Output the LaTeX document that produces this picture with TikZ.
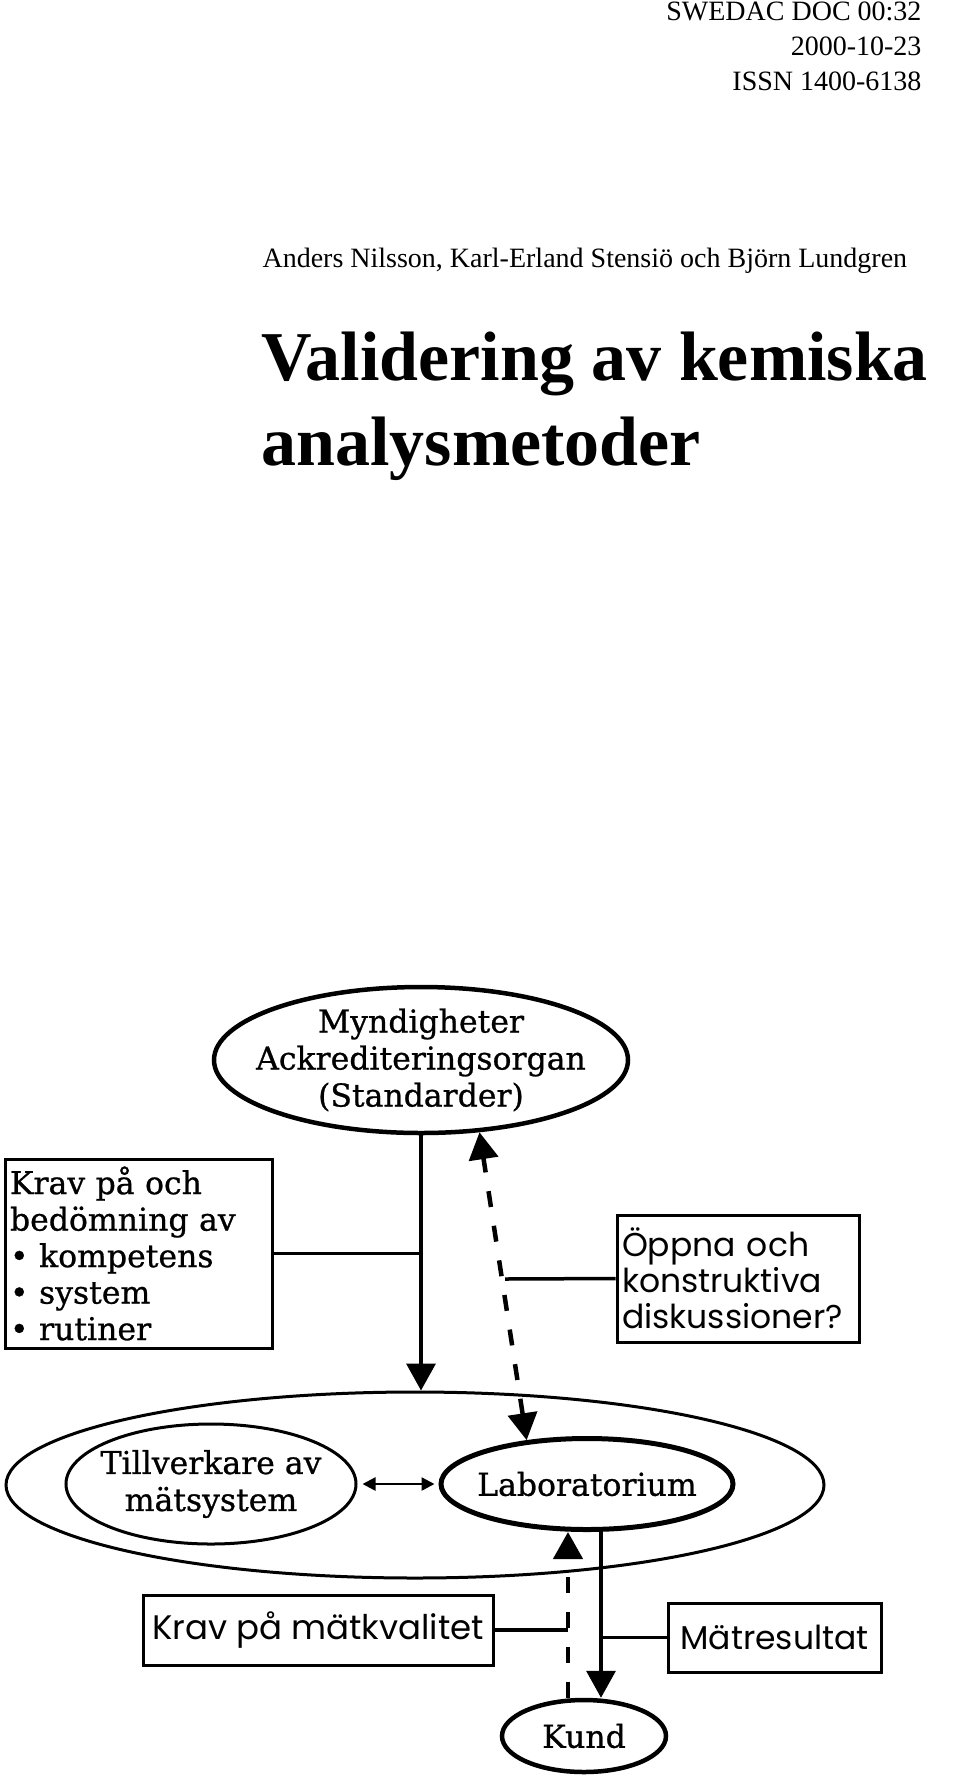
\documentclass[tikz,border=0pt]{standalone}
\usepackage{fontspec}
\setmainfont{Liberation Serif}
\newfontfamily\schfont[FakeBold=0.8]{DejaVu Serif}
\newfontfamily\gotfont{Poppins}
\usetikzlibrary{shapes.geometric,arrows.meta}

\begin{document}
\begin{tikzpicture}[x=1pt,y=-1pt,
    oval/.style={ellipse,draw,inner xsep=-80pt,inner ysep=-40pt,align=center,font=\schfont\fontsize{31.5}{37}\selectfont},
    box/.style={rectangle,draw,line width=3pt,inner sep=0pt},
    conn/.style={line width=3.5pt},
    bigtip/.style={-{Triangle[length=27pt,width=29pt]}},
    dashconn/.style={line width=4.5pt,dash pattern=on 16pt off 19pt}]
    \useasboundingbox (0,0) rectangle (960,1780);
    % head of the page
    \node[anchor=base east,font=\fontsize{28}{34}\selectfont] (doc) at (925,20) {SWEDAC DOC 00:32};
    \node[anchor=base east,font=\fontsize{28}{34}\selectfont] (date) at (925,55) {2000-10-23};
    \node[anchor=base east,font=\fontsize{28}{34}\selectfont] (issn) at (925,90) {ISSN 1400-6138};
    \node[anchor=base west,font=\fontsize{28}{34}\selectfont] (authors) at (259,267) {Anders Nilsson, Karl-Erland Stensiö och Björn Lundgren};
    \node[anchor=base west,font=\bfseries\fontsize{70}{85}\selectfont] (title1) at (258,380) {Validering av kemiska};
    \node[anchor=base west,font=\bfseries\fontsize{70}{85}\selectfont] (title2) at (258,465) {analysmetoder};
    % diagram
    \node[oval,line width=4.5pt,minimum width=414pt,minimum height=146pt] (myn) at (421,1060) {Myndigheter\\Ackrediteringsorgan\\(Standarder)};
    \node[oval,line width=3pt,minimum width=818pt,minimum height=186pt] (outer) at (415,1485) {};
    \node[oval,line width=3pt,minimum width=290pt,minimum height=120pt] (tillv) at (211,1484) {Tillverkare av\\mätsystem};
    \node[oval,line width=5pt,minimum width=292pt,minimum height=91pt] (lab) at (587,1484) {Laboratorium};
    \node[oval,line width=4.5pt,minimum width=164pt,minimum height=72pt] (kund) at (584,1736) {Kund};
    \node[box,minimum width=267pt,minimum height=189pt,text width=257pt,align=left,font=\schfont\fontsize{31.5}{36.5}\selectfont] (krav) at (138.5,1253.5)
        {Krav på och\\bedömning av\\• kompetens\\• system\\• rutiner};
    \node[box,minimum width=242pt,minimum height=127pt,text width=232pt,align=left,font=\gotfont\fontsize{33}{36}\selectfont] (oppna) at (738,1278.5)
        {Öppna och\\konstruktiva\\diskussioner?};
    \node[box,minimum width=350pt,minimum height=70pt,font=\gotfont\fontsize{34}{36}\selectfont] (kravmat) at (318,1630) {Krav på mätkvalitet};
    \node[box,minimum width=213pt,minimum height=69pt,font=\gotfont\fontsize{33}{36}\selectfont] (matres) at (774.5,1637.5) {Mätresultat};
    \coordinate (dmid) at (505,1279);
    \coordinate (lk) at ([xshift=-19pt]lab.south);
    \coordinate (lr) at ([xshift=14pt]lab.south);
    \draw[conn,bigtip] (myn.south) -- (myn.south |- outer.north);
    \draw[conn] (krav.east) -- (krav.east -| myn.south);
    \draw[dashconn,{Triangle[length=27pt,width=29pt]}-{Triangle[length=27pt,width=29pt]}] (lab.144) -- (myn.-51);
    \draw[conn] (oppna.west) -- (dmid);
    \draw[line width=2.5pt,{Triangle[length=13pt,width=13pt]}-{Triangle[length=13pt,width=13pt]},shorten <=5pt,shorten >=4pt] (tillv.east) -- (tillv.east -| lab.west);
    \draw[conn,bigtip] (lr) -- (lr |- kund.north);
    \draw[dashconn,bigtip] (lk |- kund.north) -- (lk);
    \draw[conn] (kravmat.east) -- (kravmat.east -| lk);
    \draw[conn] (matres.west) -- (matres.west -| lr);
\end{tikzpicture}
\end{document}
